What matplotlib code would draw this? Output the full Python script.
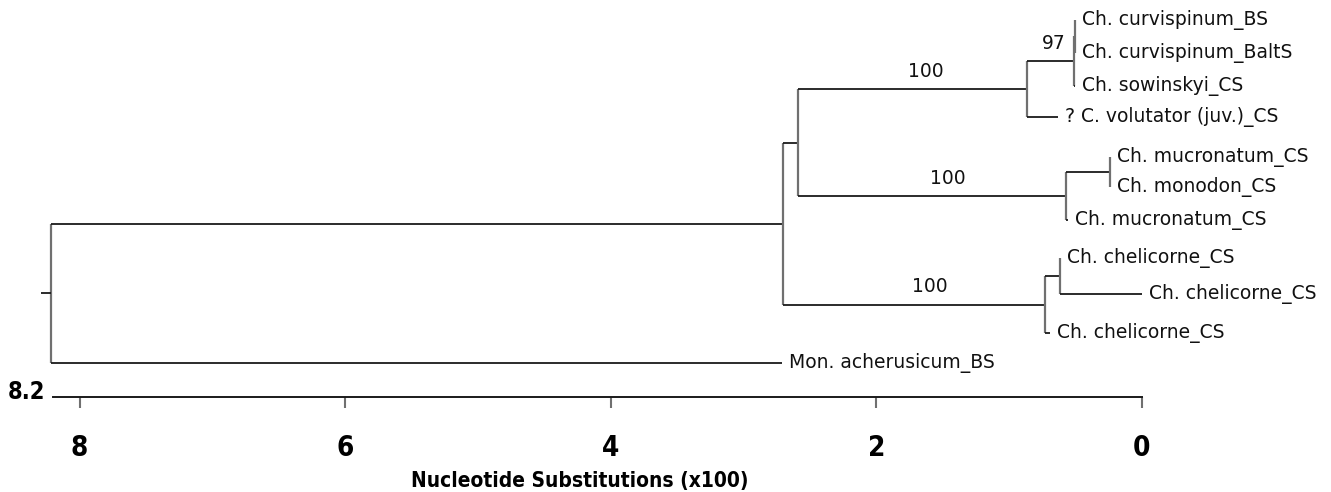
import matplotlib
matplotlib.use("Agg")
import matplotlib.pyplot as plt

# leaves, top to bottom
leaf_names = ["Ch. curvispinum_BS", "Ch. curvispinum_BaltS", "Ch. sowinskyi_CS",
              "? C. volutator (juv.)_CS", "Ch. mucronatum_CS", "Ch. monodon_CS",
              "Ch. mucronatum_CS", "Ch. chelicorne_CS", "Ch. chelicorne_CS",
              "Ch. chelicorne_CS", "Mon. acherusicum_BS"]
leaf_y = [0, 0.96, 1.92, 2.83, 4.0, 4.87, 5.83, 6.94, 7.99, 9.13, 10.0]
leaf_depth = [0.50, 0.50, 0.50, 0.63, 0.24, 0.24, 0.56, 0.62, 0.0, 0.69, 2.71]

# internal nodes (depth = distance from the present, x100 substitutions)
node_ids = ["root", "n1", "n2", "n3", "n4", "n5", "n6", "n7", "n8", "n9"]
node_depth = [8.2, 2.70, 2.59, 0.865, 0.51, 0.505, 0.57, 0.24, 0.73, 0.62]
node_children = [["n1", 10], ["n2", "n8"], ["n3", "n6"], ["n4", 3], ["n5", 2],
                 [0, 1], ["n7", 6], [4, 5], ["n9", 9], [7, 8]]

support_nodes = ["n3", "n4", "n6", "n8"]
support_values = ["100", "97", "100", "100"]

root_stub = 8.28
ticks = [8, 6, 4, 2, 0]

H_COL = "#1a1a1a"
V_COL = "#707070"

fig = plt.figure(figsize=(13.31, 4.92), dpi=100)
ax = fig.add_axes([0, 0, 1, 1])
ax.set_xlim(8.586, -1.421)
ax.set_ylim(13.76, -0.583)
ax.axis("off")

pos = {}


def place(c):
    if isinstance(c, int):
        return leaf_depth[c], leaf_y[c]
    if c in pos:
        return pos[c]
    i = node_ids.index(c)
    ys = [place(k)[1] for k in node_children[i]]
    pos[c] = (node_depth[i], (ys[0] + ys[-1]) / 2)
    return pos[c]


for nid, kids in zip(node_ids, node_children):
    x0, y0 = place(nid)
    ys = [place(k)[1] for k in kids]
    ax.vlines(x0, min(ys), max(ys), color=V_COL, lw=1.6)
    for k in kids:
        x1, y1 = place(k)
        if x0 - x1 > 0.005:
            ax.hlines(y1, x0, x1, color=H_COL, lw=1.3)

rx, ry = place("root")
ax.hlines(ry, root_stub, rx, color=H_COL, lw=1.3)

for i, name in enumerate(leaf_names):
    ax.annotate(name, xy=(leaf_depth[i], leaf_y[i]), xytext=(7, 0),
                textcoords="offset pixels", ha="left", va="center",
                fontsize=13.5, color="#111111")

for nid, val in zip(support_nodes, support_values):
    x1, y1 = place(nid)
    parent = [n for n, kids in zip(node_ids, node_children) if nid in kids][0]
    x0 = place(parent)[0]
    ax.annotate(val, xy=(x0 - 0.56 * (x0 - x1), y1), xytext=(0, 18),
                textcoords="offset pixels", ha="center", va="center",
                fontsize=13.5, color="#111111")

# scale bar
bold = dict(family=["DejaVu Sans"], stretch="condensed", weight="bold")
sc = fig.add_axes([53 / 1331, (492 - 397) / 492, 1089 / 1331, 0.0001])
sc.set_xlim(8.2, 0)
sc.set_ylim(0, 1)
for s in ["left", "right", "top"]:
    sc.spines[s].set_visible(False)
sc.spines["bottom"].set_color(H_COL)
sc.spines["bottom"].set_linewidth(1.4)
sc.set_yticks([])
sc.set_xticks(ticks)
sc.set_xticklabels([str(t) for t in ticks], fontsize=20, **bold)
sc.tick_params(axis="x", direction="out", length=8, width=1.5, color=V_COL, pad=18.5)
sc.set_xlabel("Nucleotide Substitutions (x100)", fontsize=15, labelpad=6.5, **bold)
sc.xaxis.label.set_x(0.484)
sc.annotate("8.2", xy=(8.2, 0), xytext=(-8, 5), textcoords="offset pixels",
            ha="right", va="center", fontsize=17, **bold)

fig.savefig("out.png", dpi=100)
